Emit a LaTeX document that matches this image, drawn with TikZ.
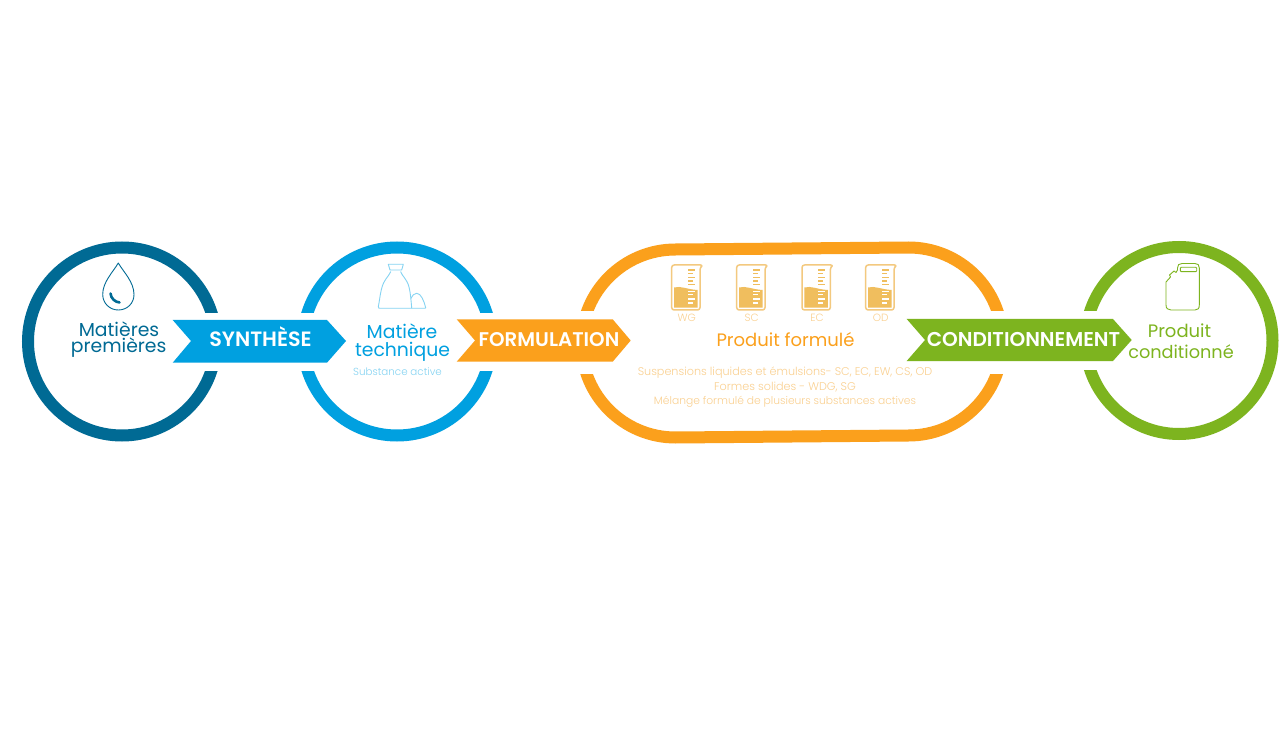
\documentclass[tikz,border=0pt]{standalone}
\usepackage{fontspec}
\setmainfont{Poppins}
\newfontfamily\lightfont{Poppins Light}
\newfontfamily\semifont{Poppins SemiBold}
\definecolor{deepblue}{HTML}{006A94}
\definecolor{skyblue}{HTML}{00A0E0}
\definecolor{paleblue}{HTML}{85D3F2}
\definecolor{amber}{HTML}{FBA01C}
\definecolor{beakerfill}{HTML}{F0BE5E}
\definecolor{beakerline}{HTML}{F3C97F}
\definecolor{paleamber}{HTML}{FAD090}
\definecolor{leaf}{HTML}{7DB41F}
\tikzset{
ringline/.style={line width=12pt},
cutband/.style={fill=white,draw=none},
iconline/.style={line width=0.9pt,line join=round,line cap=round},
chevlabel/.style={font=\fontsize{20}{20}\semifont,text=white,anchor=base,inner sep=0pt},
steplabel/.style={font=\fontsize{18.8}{20}\selectfont,anchor=base,inner sep=0pt},
greenlabel/.style={font=\fontsize{18}{20}\selectfont,text=leaf,anchor=base,inner sep=0pt},
smalllabel/.style={font=\fontsize{11.2}{12}\lightfont,text=paleamber,anchor=base,inner sep=0pt},
tinylabel/.style={font=\fontsize{10.5}{11}\lightfont,text=paleamber,anchor=base,inner sep=0pt},
beaker/.pic={
\draw[beakerline,line width=1.5pt,line join=round,rounded corners=2.5pt] (0.7,1) -- (32,1) -- (29,3.5) -- (29,46) -- (0.7,46) -- cycle;
\fill[beakerfill] (3,23.5) .. controls (10,21.5) and (16,25.5) .. (26.6,26) -- (26.6,43.7) -- (3,43.7) -- cycle;
\foreach \ty/\tw in {6/7,9.7/4.5,13.3/7,17/4.5,20.3/7}
\draw[beakerfill,line width=1.5pt] (17,\ty) -- (17+\tw,\ty);
\foreach \ty/\tw in {27.3/7,30.7/4.5,35/7,39/4.5}
\draw[white,line width=1.5pt] (17,\ty) -- (17+\tw,\ty);
}
}
\begin{document}
\begin{tikzpicture}[x=1pt,y=-1pt]
\useasboundingbox (0,0) rectangle (1280,743);
\fill[white] (0,0) rectangle (1280,743);
\draw[deepblue,ringline] (122,341.5) circle (94);
\draw[skyblue,ringline] (397,341.5) circle (94);
\draw[amber,ringline] (675.5,249.5) -- (908.5,247.5) arc (-90:90:94) -- (675.5,437.5) arc (90:270:94) -- cycle;
\draw[leaf,ringline] (1179,340.5) circle (93.5);
\fill[cutband] (130,313) rectangle (235,371);
\fill[cutband] (285,313) rectangle (505,371);
\fill[cutband] (560,311.5) rectangle (1020,373.5);
\fill[cutband] (1070,311.5) rectangle (1190,370);

% arrows
\fill[skyblue] (172.7,320) -- (327,320) -- (346,341) -- (327,362.7) -- (172.7,362.7) -- (191,341) -- cycle;
\fill[amber] (456.7,319.3) -- (612.7,319.3) -- (630.7,340.5) -- (612.7,361.7) -- (456.7,361.7) -- (475,340.5) -- cycle;
\fill[leaf] (906.7,319) -- (1113,319) -- (1131.7,340) -- (1113,361) -- (906.7,361) -- (925,340) -- cycle;
\node[chevlabel,font=\fontsize{20.7}{20}\semifont] (synthese) at (260.5,346.7) {SYNTHÈSE};
\node[chevlabel,font=\fontsize{19.8}{20}\semifont] (formulation) at (549,346.7) {FORMULATION};
\node[chevlabel] (conditionnement) at (1023.5,346.7) {CONDITIONNEMENT};

% drop
\draw[deepblue,iconline] (118.3,263) .. controls (113,272) and (102.7,282) .. (102.7,294.5) .. controls (102.7,303.5) and (110,310) .. (118.3,310) .. controls (127,310) and (134,303.5) .. (134,294.5) .. controls (134,282) and (123.5,272) .. (118.3,263) -- cycle;
\draw[deepblue,line width=2.6pt,line cap=round] (110.5,293.5) .. controls (111,298.5) and (115,302) .. (119.5,302.5);
\node[steplabel,text=deepblue] (matieres) at (119,336.7) {Matières};
\node[steplabel,text=deepblue] (premieres) at (118.7,352.7) {premières};

% bag
\draw[paleblue,iconline] (388.3,264.3) -- (403.3,264.3) -- (401.7,270) -- (390,270) -- cycle;
\draw[paleblue,iconline] (390.7,271.7) .. controls (389,276) and (383.5,280) .. (381.5,289) .. controls (380,295) and (379.5,301) .. (378.3,306.7) -- (379,308.3) -- (425,308.3) -- (425.7,307.7) .. controls (424,301) and (421,293.3) .. (416.7,293.3) .. controls (414,293.3) and (412.3,295.5) .. (411,298.3);
\draw[paleblue,iconline] (400.7,271.7) .. controls (402,276) and (407,279) .. (409,287) .. controls (410.5,293) and (411,300) .. (411.7,308);
\node[steplabel,text=skyblue] (matiere) at (402,339) {Matière};
\node[steplabel,text=skyblue] (technique) at (402.5,356) {technique};
\node[tinylabel,font=\fontsize{10.3}{11}\lightfont,text=paleblue] (substance) at (397.5,375.5) {Substance active};

% beakers
\pic at (671,264) {beaker};
\pic at (736,264) {beaker};
\pic at (801.3,264) {beaker};
\pic at (865,264) {beaker};
\node[tinylabel] (wg) at (686.7,321.5) {WG};
\node[tinylabel] (sc) at (751.7,321.5) {SC};
\node[tinylabel] (ec) at (817,321.5) {EC};
\node[tinylabel] (od) at (880.7,321.5) {OD};
\node[steplabel,font=\fontsize{18}{20}\selectfont,text=amber] (formule) at (785.5,347) {Produit formulé};
\node[smalllabel] (suspensions) at (785,375.5) {Suspensions liquides et émulsions- SC, EC, EW, CS, OD};
\node[smalllabel] (solides) at (785,390) {Formes solides - WDG, SG};
\node[smalllabel,font=\fontsize{10.7}{12}\lightfont] (melange) at (785,404) {Mélange formulé de plusieurs substances actives};

% can
\draw[leaf,iconline] (1166,305) -- (1166,282) -- (1170.5,277) -- (1169.5,275) -- (1174,271) -- (1176,272.5) -- (1177.5,270) -- (1177.5,268) .. controls (1177.5,265) and (1179,263.5) .. (1182,263.5) -- (1195,263.5) .. controls (1198,263.5) and (1199.3,265) .. (1199.3,268) -- (1199.3,305) .. controls (1199.3,308.5) and (1198,310) .. (1195,310) -- (1171,310) .. controls (1168,310) and (1166,308.5) .. (1166,305) -- cycle;
\draw[leaf,iconline,rounded corners=1pt] (1180.3,267.3) rectangle (1196.7,271.7);
\node[greenlabel] (produit) at (1179.5,337.7) {Produit};
\node[greenlabel,font=\fontsize{17.7}{20}\selectfont] (conditionne) at (1181,359) {conditionné};
\end{tikzpicture}
\end{document}
